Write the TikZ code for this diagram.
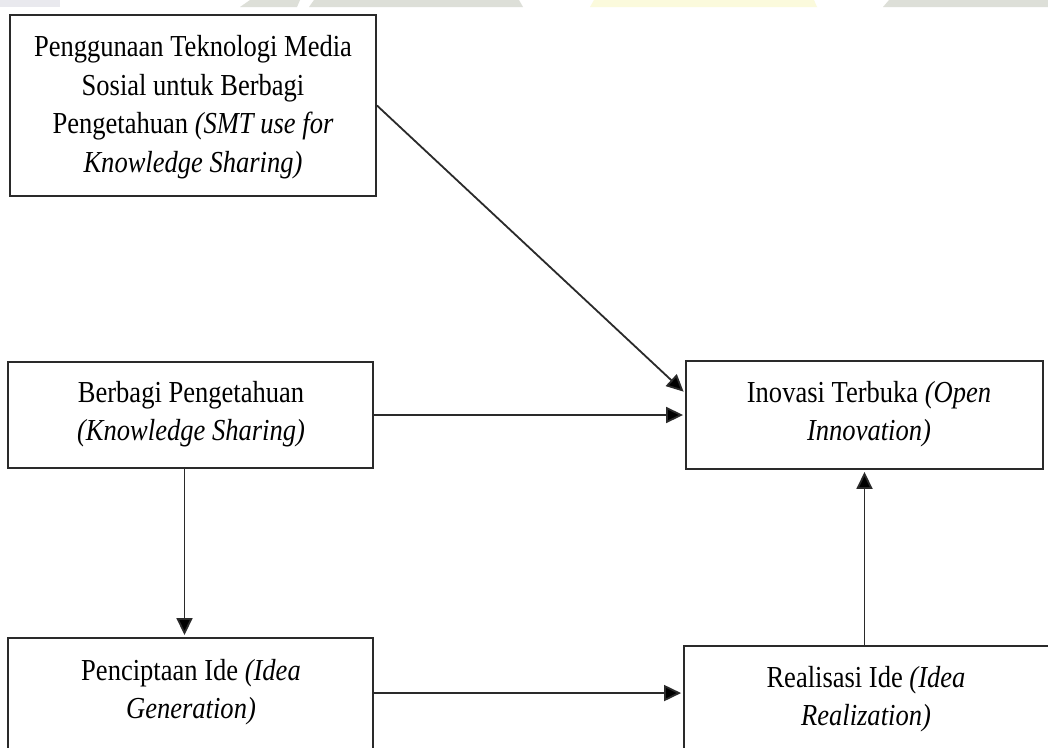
\documentclass[tikz,border=0pt]{standalone}
\usepackage{fontspec}
\setmainfont{Liberation Serif}[FakeStretch=0.87]
\usetikzlibrary{arrows.meta,calc}
\definecolor{wmgray}{HTML}{DDDFD8}
\definecolor{wmlight}{HTML}{E9E9EE}
\definecolor{wmyellow}{HTML}{FBFADC}
\definecolor{edge}{HTML}{2A2A2A}
\begin{document}
\begin{tikzpicture}[x=1pt,y=-1pt,
  boxnode/.style={draw=edge,line width=1.9pt,rectangle,inner sep=0pt},
  labelnode/.style={align=center,font=\fontsize{30.5}{38.5}\selectfont,inner sep=0pt},
  arr/.style={draw=edge,line width=1.8pt,-{Triangle[length=17pt,width=16pt,fill=black]},shorten >=2pt}]
\clip (0,0) rectangle (1048,747);
\fill[white] (0,0) rectangle (1048,747);
% faint watermark remnants at the top edge
\fill[wmlight] (0,0) rectangle (60,7);
\fill[wmgray] (240,7) -- (250,0) -- (300,0) -- (297,7) -- cycle;
\fill[wmgray] (309,7) -- (314,0) -- (519,0) -- (523,7) -- cycle;
\fill[wmyellow] (590,7) -- (594,0) -- (814,0) -- (817,7) -- cycle;
\fill[wmgray] (883,7) -- (889,0) -- (1048,0) -- (1048,7) -- cycle;
% boxes
\node[boxnode,minimum width=366pt,minimum height=181pt] (b1) at (193,105.5) {};
\node[boxnode,minimum width=365pt,minimum height=106pt] (b2) at (190.5,415) {};
\node[boxnode,minimum width=357pt,minimum height=108pt] (b3) at (864.5,415) {};
\node[boxnode,minimum width=365pt,minimum height=162pt] (b4) at (190.5,719) {};
\node[boxnode,minimum width=376pt,minimum height=154pt] (b5) at (872,723) {};
% labels
\node[labelnode] (t1) at (193,107) {Penggunaan Teknologi Media\\Sosial untuk Berbagi\\Pengetahuan \textit{(SMT use for}\\\textit{Knowledge Sharing)}};
\node[labelnode] (t2) at (191,414) {Berbagi Pengetahuan\\\textit{(Knowledge Sharing)}};
\node[labelnode] (t3) at (869,414) {Inovasi Terbuka \textit{(Open}\\\textit{Innovation)}};
\node[labelnode] (t4) at (191,692) {Penciptaan Ide \textit{(Idea}\\\textit{Generation)}};
\node[labelnode] (t5) at (866,699) {Realisasi Ide \textit{(Idea}\\\textit{Realization)}};
% connectors
\draw[arr] (b1.east) -- ($(b3.north west)!0.3!(b3.south west)$);
\draw[arr] (b2.east) -- (b3.west);
\draw[arr] ($(b2.south)+(-6,0)$) -- ($(b4.north)+(-6,0)$);
\draw[arr] ($(b4.north east)+(0,56)$) -- ($(b5.north west)+(0,48)$);
\draw[arr] (b3.south |- b5.north) -- (b3.south);
\end{tikzpicture}
\end{document}
